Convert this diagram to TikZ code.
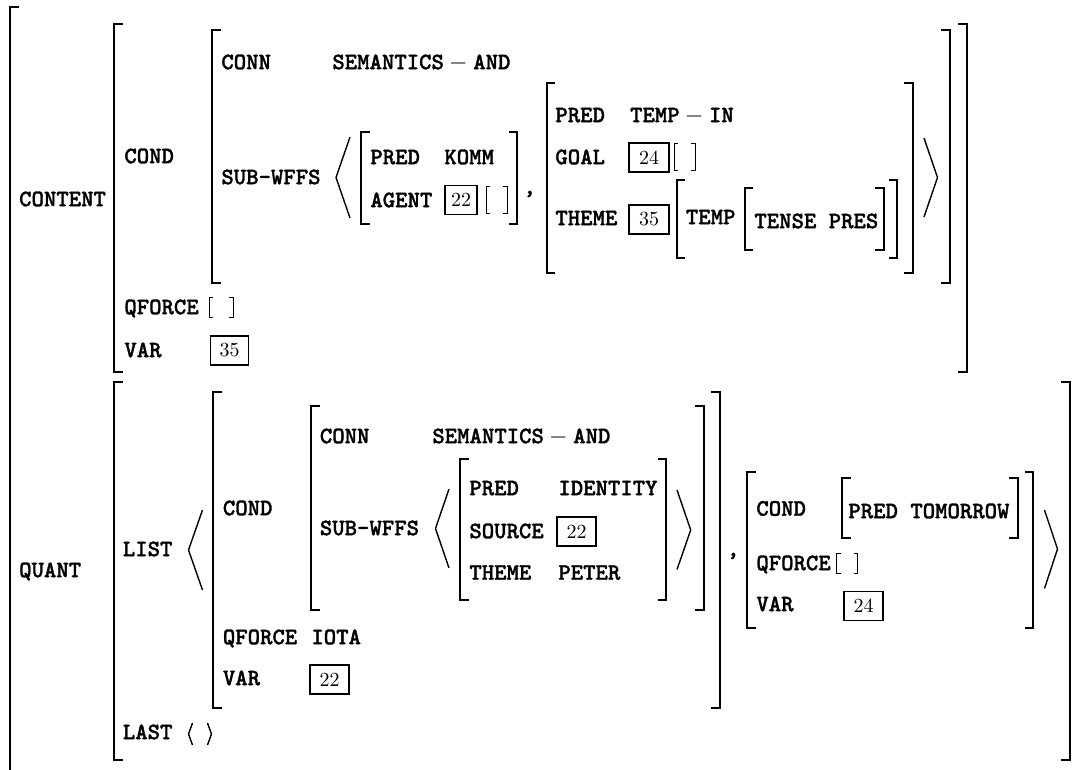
\documentclass[tikz,border=0pt]{standalone}
\usepackage{fontspec}
\newfontfamily\avmfont{lmmonolt10-bold.otf}[FakeBold=1.3]
\tikzset{
  avm/.style={anchor=base west, inner sep=0pt, font=\fontsize{11.8}{14}\selectfont\avmfont},
  brk/.style={line width=1pt},
  ang/.style={line width=0.7pt, line join=miter},
  smallbrk/.style={line width=0.5pt},
  tag/.style={draw, line width=0.85pt, inner sep=0pt, minimum width=19.5pt, minimum height=14.5pt,
              font=\fontsize{10}{12}\selectfont\rmfamily\mdseries},
}
\newcommand\avmL[3]{\draw[brk] ({#1+8.5},#2) -- (#1,#2) -- (#1,#3) -- ({#1+8.5},#3);}
\newcommand\avmR[3]{\draw[brk] ({#1-8.5},#2) -- (#1,#2) -- (#1,#3) -- ({#1-8.5},#3);}
\newcommand\emptyavm[4]{\draw[smallbrk] ({#1+4},#3) -- (#1,#3) -- (#1,#4) -- ({#1+4},#4);
  \draw[smallbrk] ({#2-4},#3) -- (#2,#3) -- (#2,#4) -- ({#2-4},#4);}
\begin{document}
\begin{tikzpicture}[x=0.5pt,y=-0.5pt]
\useasboundingbox (0,0) rectangle (1077,770);
% ---------- outer bracket
\draw[brk] (18.5,7.3) -- (10,7.3) -- (10,772);
% ---------- CONTENT
\node[avm] (content) at (18.8,206.2) {CONTENT};
\avmL{114}{24}{372} \avmR{966.5}{24}{372}
\node[avm] (cond1) at (124,163.2) {COND};
\avmL{212}{30}{283} \avmR{949.5}{30}{283}
\node[avm] (conn1) at (221,69.2) {CONN};
\node[avm] (sem1) at (332,69.2) {SEMANTICS${}-{}$AND};
\node[avm] (subw1) at (221,184.2) {SUB-WFFS};
\draw[ang] (350,137) -- (336,177.5) -- (350,218);
\avmL{361}{132}{224} \avmR{517}{132}{224}
\node[avm] (pred1) at (370,164.2) {PRED};
\node[avm] (komm) at (444,164.2) {KOMM};
\node[avm] (agent) at (370,207.2) {AGENT};
\node[tag, minimum width=16pt, minimum height=14.5pt] (b22a) at (461,200) {22};
\emptyavm{486}{507}{187}{214}
\node[avm] (comma1) at (523,194) {,};
\avmL{546.5}{83}{273} \avmR{912.5}{83}{273}
\node[avm] (pred2) at (555,122.2) {PRED};
\node[avm] (tempin) at (629.7,122.2) {TEMP${}-{}$IN};
\node[avm] (goal) at (555,164.2) {GOAL};
\node[tag, minimum width=20pt] (b24a) at (649,157.5) {24};
\emptyavm{674}{695}{144}{171}
\node[avm] (theme1) at (555,225.2) {THEME};
\node[tag, minimum width=20pt] (b35a) at (649,219.5) {35};
\avmL{676.5}{180.5}{258} \avmR{897}{180.5}{258}
\node[avm] (temp) at (685.5,224.2) {TEMP};
\avmL{744.8}{188}{250} \avmR{883.5}{188}{250}
\node[avm] (tense) at (754,228.2) {TENSE PRES};
\draw[ang] (924,138) -- (937.5,177.5) -- (924,217);
\node[avm] (qf1) at (124,314.2) {QFORCE};
\emptyavm{209}{233}{298}{318}
\node[avm] (var1) at (124,357.2) {VAR};
\node[tag, minimum width=19pt] (b35b) at (229.5,350.5) {35};
% ---------- QUANT
\node[avm] (quant) at (18.8,577.2) {QUANT};
\avmL{114}{382}{760} \avmR{1069.5}{382}{760}
\node[avm] (list) at (122.5,556.2) {LIST};
\draw[ang] (202.5,510) -- (188.5,550) -- (202.5,590);
\avmL{213}{392}{708} \avmR{719.8}{392}{708}
\node[avm] (cond2) at (222.5,515.2) {COND};
\avmL{311}{406}{610} \avmR{703.7}{406}{610}
\node[avm] (conn2) at (319.5,443.2) {CONN};
\node[avm] (sem2) at (432,443.2) {SEMANTICS${}-{}$AND};
\node[avm] (subw2) at (319.5,535.2) {SUB-WFFS};
\draw[ang] (449,489) -- (435.5,528.5) -- (449,568);
\avmL{460}{459}{599.5} \avmR{666}{459}{599.5}
\node[avm] (pred3) at (469,495.2) {PRED};
\node[avm] (ident) at (558,495.2) {IDENTITY};
\node[avm] (source) at (469,538.2) {SOURCE};
\node[tag, minimum width=19.5pt] (b22b) at (576.7,531.5) {22};
\node[avm] (theme2) at (469,579.7) {THEME};
\node[avm] (peter) at (558,579.7) {PETER};
\draw[ang] (677,490) -- (690.7,530) -- (677,569.5);
\node[avm] (comma2) at (726.5,556) {,};
\avmL{747}{472}{628} \avmR{1033}{472}{628}
\node[avm] (cond3) at (756,515.7) {COND};
\avmL{842}{478}{538} \avmR{1017.7}{478}{538}
\node[avm] (tomorrow) at (848,518.2) {PRED TOMORROW};
\node[avm] (qf3) at (756,570.2) {QFORCE};
\emptyavm{836.5}{857.5}{553}{573}
\node[avm] (var3) at (756,611.2) {VAR};
\node[tag, minimum width=19.5pt] (b24b) at (863.5,606) {24};
\draw[ang] (1044.5,510) -- (1057.5,549) -- (1044.5,588.5);
\node[avm] (qf2) at (222.5,644.2) {QFORCE};
\node[avm] (iota) at (311,644.2) {IOTA};
\node[avm] (var2) at (222.5,685.2) {VAR};
\node[tag, minimum width=19.3pt] (b22c) at (329.5,679.5) {22};
\node[avm] (last) at (122.5,739.2) {LAST};
\draw[ang] (192.5,723) -- (188.5,734) -- (192.5,745);
\draw[ang] (207.5,723) -- (211.5,734) -- (207.5,745);
\end{tikzpicture}
\end{document}
